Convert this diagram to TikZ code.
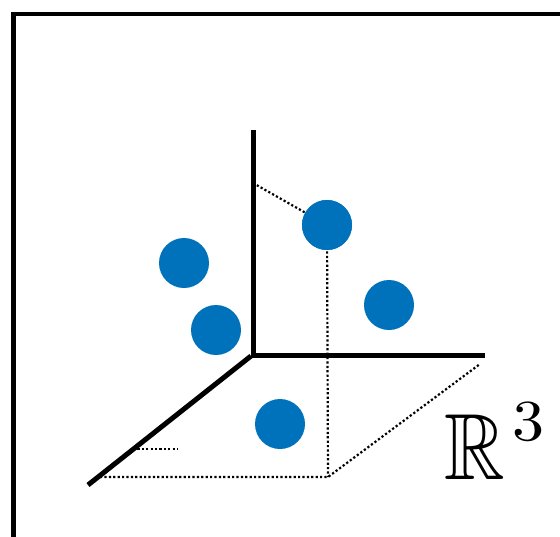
\documentclass[tikz,border=0pt]{standalone}
\usepackage{amssymb}
\usepackage{graphicx}
\definecolor{dotblue}{RGB}{0,114,187}
\begin{document}
\begin{tikzpicture}[x=1pt,y=-1pt,
  axis/.style={line width=5pt},
  guide/.style={line width=2.2pt,dash pattern=on 2.2pt off 2.2pt},
  pt/.style={circle,fill=dotblue,minimum size=50pt,inner sep=0pt},
  frame/.style={line width=4.5pt}]
\useasboundingbox (0,0) rectangle (560,536);
\draw[frame] (13.5,545) -- (13.5,14) -- (570,14);
% coordinates
\coordinate (O) at (253,355);
\coordinate (ztop) at (253,130);
\coordinate (xend) at (485,355);
\coordinate (yend) at (88,485);
\coordinate (zmark) at (253,183);
\coordinate (foot) at (328,477);
\coordinate (left) at (100,477);
\coordinate (back) at (480,364);
\coordinate (tickA) at (133,449);
\coordinate (tickB) at (178,449);
% points
\node[pt] (p1) at (327,225) {};
\node[pt] (p2) at (184,263) {};
\node[pt] (p3) at (389,305) {};
\node[pt] (p4) at (216,330) {};
\node[pt] (p5) at (280,424) {};
% guides
\draw[guide] (zmark) -- (p1.center);
\draw[guide] (p1.center) -- (foot);
\draw[guide] (left) -- (foot) -- (back);
\draw[guide] (tickA) -- (tickB);
% redraw point p1 over guide
\node[pt] at (p1) {};
% axes
\draw[axis] (ztop) -- (O |- xend) -- (xend);
\draw[axis] (251,356) -- (yend);
% label
\node[anchor=base west,inner sep=0pt] (lab) at (444,479)
  {\scalebox{8.4}[9.4]{$\mathbb{R}$}\hspace{8pt}\raisebox{39pt}{\scalebox{6.4}[5.8]{3}}};
\end{tikzpicture}
\end{document}
